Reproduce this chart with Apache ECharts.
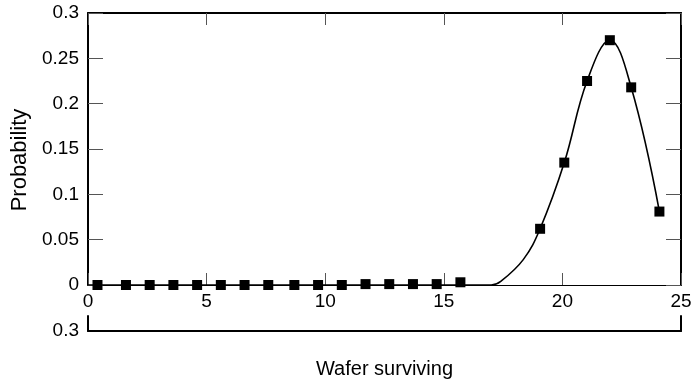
<!DOCTYPE html>
<html>
<head>
<meta charset="utf-8">
<script src="https://cdn.jsdelivr.net/npm/echarts@6/dist/echarts.min.js"></script>
<style>
  html, body { margin: 0; padding: 0; background: #fff; }
  #chart { width: 691px; height: 381px; }
</style>
</head>
<body>
<div id="chart"></div>
<script>
// measured points (squares)
const waferX = [0.4, 1.6, 2.6, 3.6, 4.6, 5.6, 6.6, 7.6, 8.7, 9.7, 10.7, 11.7, 12.7, 13.7, 14.7, 15.7,
  19.06, 20.08, 21.04, 22.0, 22.9, 24.09];
const probY = [0, 0, 0, 0, 0, 0, 0, 0, 0, 0, 0, 0.001, 0.001, 0.001, 0.001, 0.003,
  0.062, 0.135, 0.225, 0.27, 0.218, 0.081];

// fitted curve
const curveX = [0, 17.0, 17.4, 18.35, 19.06, 20.08, 21.04, 22.0, 22.9, 24.09];
const curveY = [0, 0, 0.004, 0.028, 0.062, 0.135, 0.225, 0.27, 0.218, 0.081];

const xTicks = [0, 5, 10, 15, 20, 25];
const yTicks = [0, 0.05, 0.1, 0.15, 0.2, 0.25, 0.3];

const FONT = 'Liberation Sans, Arial, sans-serif';
const chart = echarts.init(document.getElementById('chart'));

const thick = { show: true, onZero: false, lineStyle: { color: '#000', width: 2 } };
const tickStyle = { color: '#555', width: 1 };

chart.setOption({
  animation: false,
  backgroundColor: '#fff',
  grid: [
    { left: 88, right: 10, top: 13, height: 272, outerBoundsMode: 'none', containLabel: false },
    { left: 88, right: 10, top: 316, height: 15, outerBoundsMode: 'none', containLabel: false }
  ],
  xAxis: [
    {
      gridIndex: 0, type: 'value', position: 'bottom',
      min: xTicks[0], max: xTicks[xTicks.length - 1], interval: 5,
      axisLine: { show: true, onZero: false, lineStyle: { color: '#000', width: 1.2 } },
      axisTick: { inside: true, length: 12, lineStyle: tickStyle },
      axisLabel: { color: '#000', fontSize: 19, fontFamily: FONT, margin: 7 },
      splitLine: { show: false },
      name: 'Wafer surviving', nameLocation: 'middle', nameGap: 74,
      nameTextStyle: { color: '#000', fontSize: 20, fontFamily: FONT }
    },
    {
      gridIndex: 0, type: 'value', position: 'top',
      min: 0, max: 25, interval: 5,
      axisLine: thick,
      axisTick: { inside: true, length: 12, lineStyle: tickStyle },
      axisLabel: { show: false },
      splitLine: { show: false }
    },
    {
      gridIndex: 1, type: 'value', position: 'bottom',
      min: 0, max: 25,
      axisLine: thick,
      axisTick: { show: false },
      axisLabel: { show: false },
      splitLine: { show: false }
    }
  ],
  yAxis: [
    {
      gridIndex: 0, type: 'value', position: 'left',
      min: yTicks[0], max: yTicks[yTicks.length - 1], interval: 0.05,
      axisLine: thick,
      axisTick: { inside: true, length: 15, lineStyle: tickStyle },
      axisLabel: { color: '#000', fontSize: 19, fontFamily: FONT, margin: 9 },
      splitLine: { show: false },
      name: 'Probability', nameLocation: 'middle', nameGap: 55, nameRotate: 90,
      nameTextStyle: { color: '#000', fontSize: 22, fontFamily: FONT, padding: [0, 22, 0, 0] }
    },
    {
      gridIndex: 0, type: 'value', position: 'right',
      min: 0, max: 0.3, interval: 0.05,
      axisLine: thick,
      axisTick: { inside: true, length: 15, lineStyle: tickStyle },
      axisLabel: { show: false },
      splitLine: { show: false }
    },
    {
      gridIndex: 1, type: 'value', position: 'left', inverse: true,
      min: 0, max: 0.3, interval: 0.3,
      axisLine: thick,
      axisTick: { show: false },
      axisLabel: { color: '#000', fontSize: 19, fontFamily: FONT, margin: 9, showMinLabel: false },
      splitLine: { show: false }
    },
    {
      gridIndex: 1, type: 'value', position: 'right',
      min: 0, max: 0.3,
      axisLine: thick,
      axisTick: { show: false },
      axisLabel: { show: false },
      splitLine: { show: false }
    }
  ],
  series: [
    {
      type: 'line',
      xAxisIndex: 0, yAxisIndex: 0,
      data: curveX.map((x, i) => [x, curveY[i]]),
      smooth: 0.4,
      showSymbol: false,
      lineStyle: { color: '#000', width: 1.6 },
      z: 2
    },
    {
      type: 'scatter',
      xAxisIndex: 0, yAxisIndex: 0,
      data: waferX.map((x, i) => [x, probY[i]]),
      symbol: 'rect',
      symbolSize: 10,
      itemStyle: { color: '#000', opacity: 1 },
      z: 3
    }
  ]
});
</script>
</body>
</html>
